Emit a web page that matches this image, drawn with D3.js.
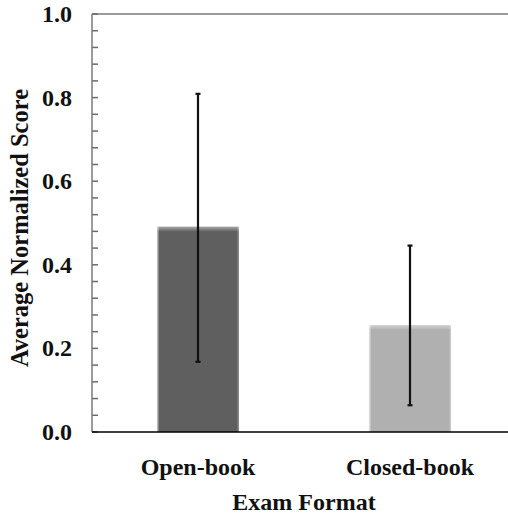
<!DOCTYPE html>
<html>
<head>
<meta charset="utf-8">
<script src="https://cdn.jsdelivr.net/npm/d3@7"></script>
<style>
  html, body { margin: 0; padding: 0; background: #fff; }
  svg { display: block; }
  text { font-family: "Liberation Serif", "Times New Roman", serif; font-weight: bold; fill: #111; }
</style>
</head>
<body>
<svg id="chart" width="508" height="517"></svg>
<script>
// Exam formats and their average normalized scores with error ranges
const categories = ["Open-book", "Closed-book"];
const means = [0.491, 0.256];
const errLow = [0.168, 0.064];
const errHigh = [0.809, 0.446];
const barColors = ["#5f5f5f", "#b0b0b0"];
const yTicks = [0.0, 0.2, 0.4, 0.6, 0.8, 1.0];

const svg = d3.select("#chart");
const plotLeft = 92, plotRight = 516, plotTop = 14, plotBottom = 432;

// category centres; each bar takes a fraction of the category step
const x = d3.scalePoint().domain(categories).range([plotLeft, plotRight]).padding(0.5);
const barW = x.step() * 0.387;
const y = d3.scaleLinear().domain([0, 1]).range([plotBottom, plotTop]);

const defs = svg.append("defs");
// soft highlight along the top edge of each bar
const topGrad = defs.append("linearGradient").attr("id", "topShine").attr("x1", 0).attr("y1", 0).attr("x2", 0).attr("y2", 1);
topGrad.append("stop").attr("offset", "0%").attr("stop-color", "#fff").attr("stop-opacity", 0.45);
topGrad.append("stop").attr("offset", "100%").attr("stop-color", "#fff").attr("stop-opacity", 0);
// light rims on the left and right sides
const sideGrad = defs.append("linearGradient").attr("id", "sideShine").attr("x1", 0).attr("y1", 0).attr("x2", 1).attr("y2", 0);
[[0, 0.7], [0.03, 0.0], [0.97, 0.0], [1, 0.35]].forEach(([o, a]) =>
  sideGrad.append("stop").attr("offset", o * 100 + "%").attr("stop-color", "#fff").attr("stop-opacity", a));

// frame: top border and y axis line
svg.append("line").attr("x1", plotLeft).attr("x2", 508).attr("y1", plotTop).attr("y2", plotTop)
  .attr("stroke", "#7a7a7a").attr("stroke-width", 1.5);

// minor ticks pointing into the plot
const minor = d3.range(0, 1.0001, 0.04);
svg.append("g").selectAll("line").data(minor).join("line")
  .attr("x1", plotLeft).attr("x2", plotLeft + 6)
  .attr("y1", d => y(d)).attr("y2", d => y(d))
  .attr("stroke", "#6a6a6a").attr("stroke-width", 1.5);

svg.append("line").attr("x1", plotLeft).attr("x2", plotLeft).attr("y1", plotTop).attr("y2", plotBottom)
  .attr("stroke", "#7a7a7a").attr("stroke-width", 1.5);

// y tick labels
svg.append("g").selectAll("text").data(yTicks).join("text")
  .attr("x", 72).attr("y", d => y(d) + 8)
  .attr("text-anchor", "end").attr("font-size", 24)
  .text(d => d.toFixed(1));

// bars
const bars = svg.append("g");
categories.forEach((c, i) => {
  const bx = x(c) - barW / 2, by = y(means[i]), bh = y(0) - y(means[i]);
  bars.append("rect").attr("x", bx).attr("y", by).attr("width", barW).attr("height", bh).attr("fill", barColors[i]);
  bars.append("rect").attr("x", bx).attr("y", by).attr("width", barW).attr("height", bh).attr("fill", "url(#sideShine)");
  bars.append("rect").attr("x", bx).attr("y", by).attr("width", barW).attr("height", 5).attr("fill", "url(#topShine)");
});

// error bars
const eb = svg.append("g").attr("stroke", "#111").attr("stroke-width", 2.2);
categories.forEach((c, i) => {
  const cx = x(c);
  eb.append("line").attr("x1", cx).attr("x2", cx).attr("y1", y(errHigh[i])).attr("y2", y(errLow[i]));
  [errHigh[i], errLow[i]].forEach(v =>
    eb.append("line").attr("x1", cx - 2.5).attr("x2", cx + 2.5).attr("y1", y(v)).attr("y2", y(v)));
});

// x axis baseline
svg.append("line").attr("x1", plotLeft).attr("x2", 508).attr("y1", plotBottom).attr("y2", plotBottom)
  .attr("stroke", "#000").attr("stroke-width", 1.5);

// category labels
svg.append("g").selectAll("text").data(categories).join("text")
  .attr("x", d => x(d)).attr("y", 475)
  .attr("text-anchor", "middle").attr("font-size", 24)
  .text(d => d);

// axis titles
svg.append("text").attr("x", 304).attr("y", 510).attr("text-anchor", "middle").attr("font-size", 24)
  .text("Exam Format");
svg.append("text").attr("transform", "translate(28,228) rotate(-90)")
  .attr("text-anchor", "middle").attr("font-size", 24.5)
  .text("Average Normalized Score");
</script>
</body>
</html>
